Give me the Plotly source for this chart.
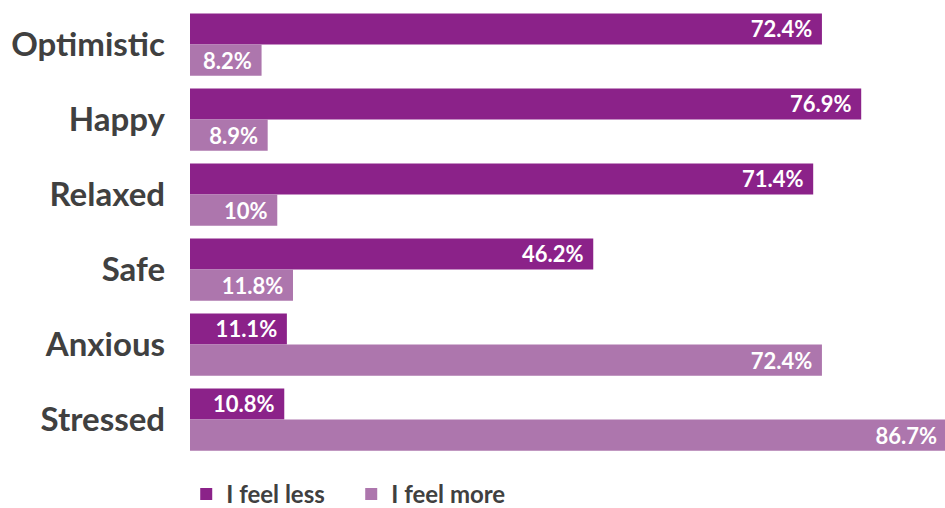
import plotly.graph_objects as go

categories = ["Optimistic", "Happy", "Relaxed", "Safe", "Anxious", "Stressed"]
feel_less = [72.4, 76.9, 71.4, 46.2, 11.1, 10.8]
feel_more = [8.2, 8.9, 10, 11.8, 72.4, 86.7]
series_names = ["I feel less", "I feel more"]
colors = ["#8B2289", "#AD76AD"]

fig = go.Figure()
for name, vals, col in zip(series_names, [feel_less, feel_more], colors):
    fig.add_trace(go.Bar(
        y=categories, x=vals, name=name, orientation="h",
        marker=dict(color=col, line=dict(width=0)),
        text=[f"{v:g}%\u00a0\u200a" for v in vals],
        textposition="inside", insidetextanchor="end",
        textfont=dict(family="Lato", size=22, color="white", weight="bold"),
        hoverinfo="skip",
    ))

fig.update_layout(
    width=945, height=508,
    margin=dict(l=190, r=0, t=6.5, b=50.5, autoexpand=False),
    barmode="group", bargap=0.17, bargroupgap=0,
    plot_bgcolor="white", paper_bgcolor="white",
    uniformtext=dict(mode="show", minsize=22),
    showlegend=True,
    legend=dict(orientation="h", x=-0.005, xanchor="left", y=-0.033, yanchor="top",
                entrywidth=120, entrywidthmode="pixels",
                font=dict(family="Lato", size=24, color="#404040", weight="bold"),
                traceorder="normal"),
    xaxis=dict(range=[0, 86.5], visible=False, fixedrange=True),
    yaxis=dict(autorange="reversed", ticks="", showgrid=False, showline=False,
               ticklabelstandoff=24, fixedrange=True,
               tickfont=dict(family="Lato", size=33, color="#404040", weight="bold")),
)

fig.write_html("out.html", config={"displayModeBar": False},
               post_script="document.body.style.margin='0';document.body.style.overflow='hidden';")
